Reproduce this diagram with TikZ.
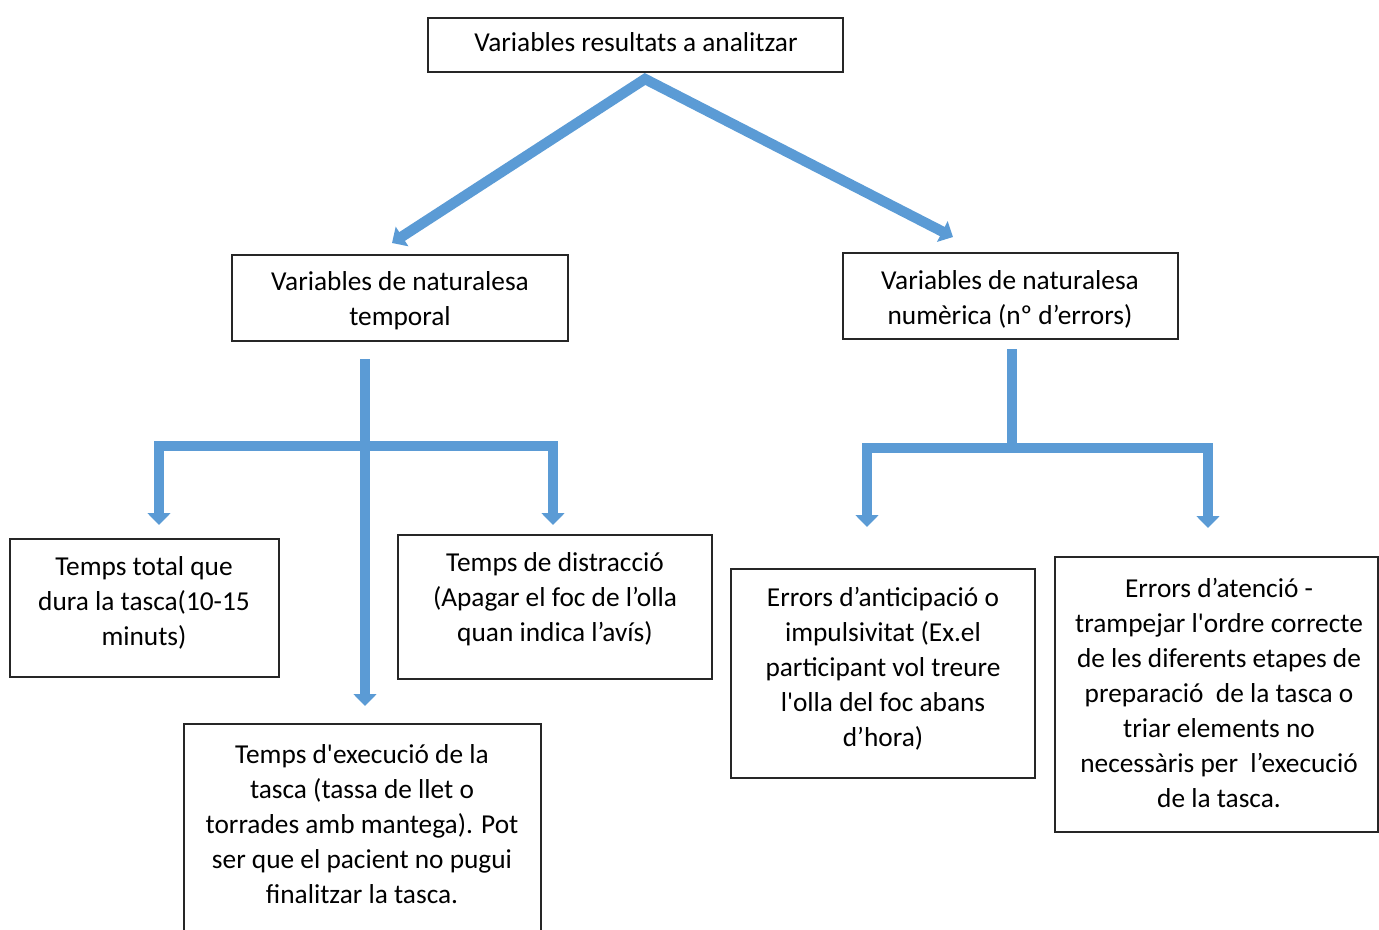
\documentclass[tikz,border=0pt]{standalone}
\usepackage{fontspec}
\setmainfont{Carlito}[Ligatures=TeXOff]
\usetikzlibrary{arrows.meta}
\definecolor{flowblue}{RGB}{91,155,213}
\begin{document}
\begin{tikzpicture}[x=0.75pt,y=-0.75pt,
  box/.style={draw=black!85,line width=1.3pt,inner sep=0pt},
  txt/.style={align=center,font=\fontsize{20.5}{26.3}\selectfont,inner sep=0pt},
  flow/.style={draw=flowblue,line width=7.8pt,line join=miter},
  tip/.tip={Triangle[width=17pt,length=9pt]}]
\useasboundingbox (0,0) rectangle (1379,929);
\clip (0,0) rectangle (1379,929);

% frames
\node[box,minimum width=311.25pt,minimum height=40.5pt] (top) at (635.5,45) {};
\node[box,minimum width=252pt,minimum height=64.5pt] (temp) at (400,298) {};
\node[box,minimum width=251.25pt,minimum height=64.5pt] (num) at (1010.5,296) {};
\node[box,minimum width=201.75pt,minimum height=103.5pt] (total) at (144.5,608) {};
\node[box,minimum width=235.5pt,minimum height=108pt] (distr) at (555,607) {};
\node[box,minimum width=267.75pt,minimum height=177pt] (exec) at (362.5,842) {};
\node[box,minimum width=228pt,minimum height=156.75pt] (antic) at (883,673.5) {};
\node[box,minimum width=242.25pt,minimum height=206.25pt] (aten) at (1216.5,694.5) {};

% texts
\node[txt] (topT) at (636,42) {Variables resultats a analitzar};
\node[txt] (tempT) at (400,301) {Variables de naturalesa\\temporal};
\node[txt] (numT) at (1010,299) {Variables de naturalesa\\numèrica (nº d’errors)};
\node[txt] (totalT) at (144,603) {Temps total que\\dura la tasca(10-15\\minuts)};
\node[txt] (distrT) at (555,599) {Temps de distracció\\(Apagar el foc de l’olla\\quan indica l’avís)};
\node[txt] (execT) at (362,824) {Temps d'execució de la\\tasca (tassa de llet o\\torrades amb mantega). Pot\\ser que el pacient no pugui\\finalitzar la tasca.};
\node[txt] (anticT) at (883,669) {Errors d’anticipació o\\impulsivitat (Ex.el\\participant vol treure\\l'olla del foc abans\\d’hora)};
\node[txt] (atenT) at (1219,693) {Errors d’atenció -\\trampejar l'ordre correcte\\de les diferents etapes de\\preparació\ \ de la tasca o\\triar elements no\\necessàris per\ \ l’execució\\de la tasca.};

% connector end points
\coordinate (apex) at (645,79);
\coordinate (toTemp) at (392,243);
\coordinate (toNum) at (953,237);
\coordinate (lStem) at (365,359);
\coordinate (lExec) at (365,706);
\coordinate (lTotal) at (159,525);
\coordinate (lTotalK) at (159,446);
\coordinate (lDistr) at (553,525);
\coordinate (lDistrK) at (553,446);
\coordinate (rStem) at (1012,349);
\coordinate (rMid) at (1012,448);
\coordinate (rAntic) at (867,527);
\coordinate (rAnticK) at (867,448);
\coordinate (rAten) at (1208,528);
\coordinate (rAtenK) at (1208,448);

% first level
\draw[flow,tip-tip] (toTemp) -- (apex) -- (toNum);
% temporal branch
\draw[flow,-tip] (lStem) -- (lExec);
\draw[flow,tip-tip] (lTotal) -- (lTotalK) -- (lDistrK) -- (lDistr);
% numeric branch
\draw[flow] (rStem) -- (rMid);
\draw[flow,tip-tip] (rAntic) -- (rAnticK) -- (rAtenK) -- (rAten);
\end{tikzpicture}
\end{document}
